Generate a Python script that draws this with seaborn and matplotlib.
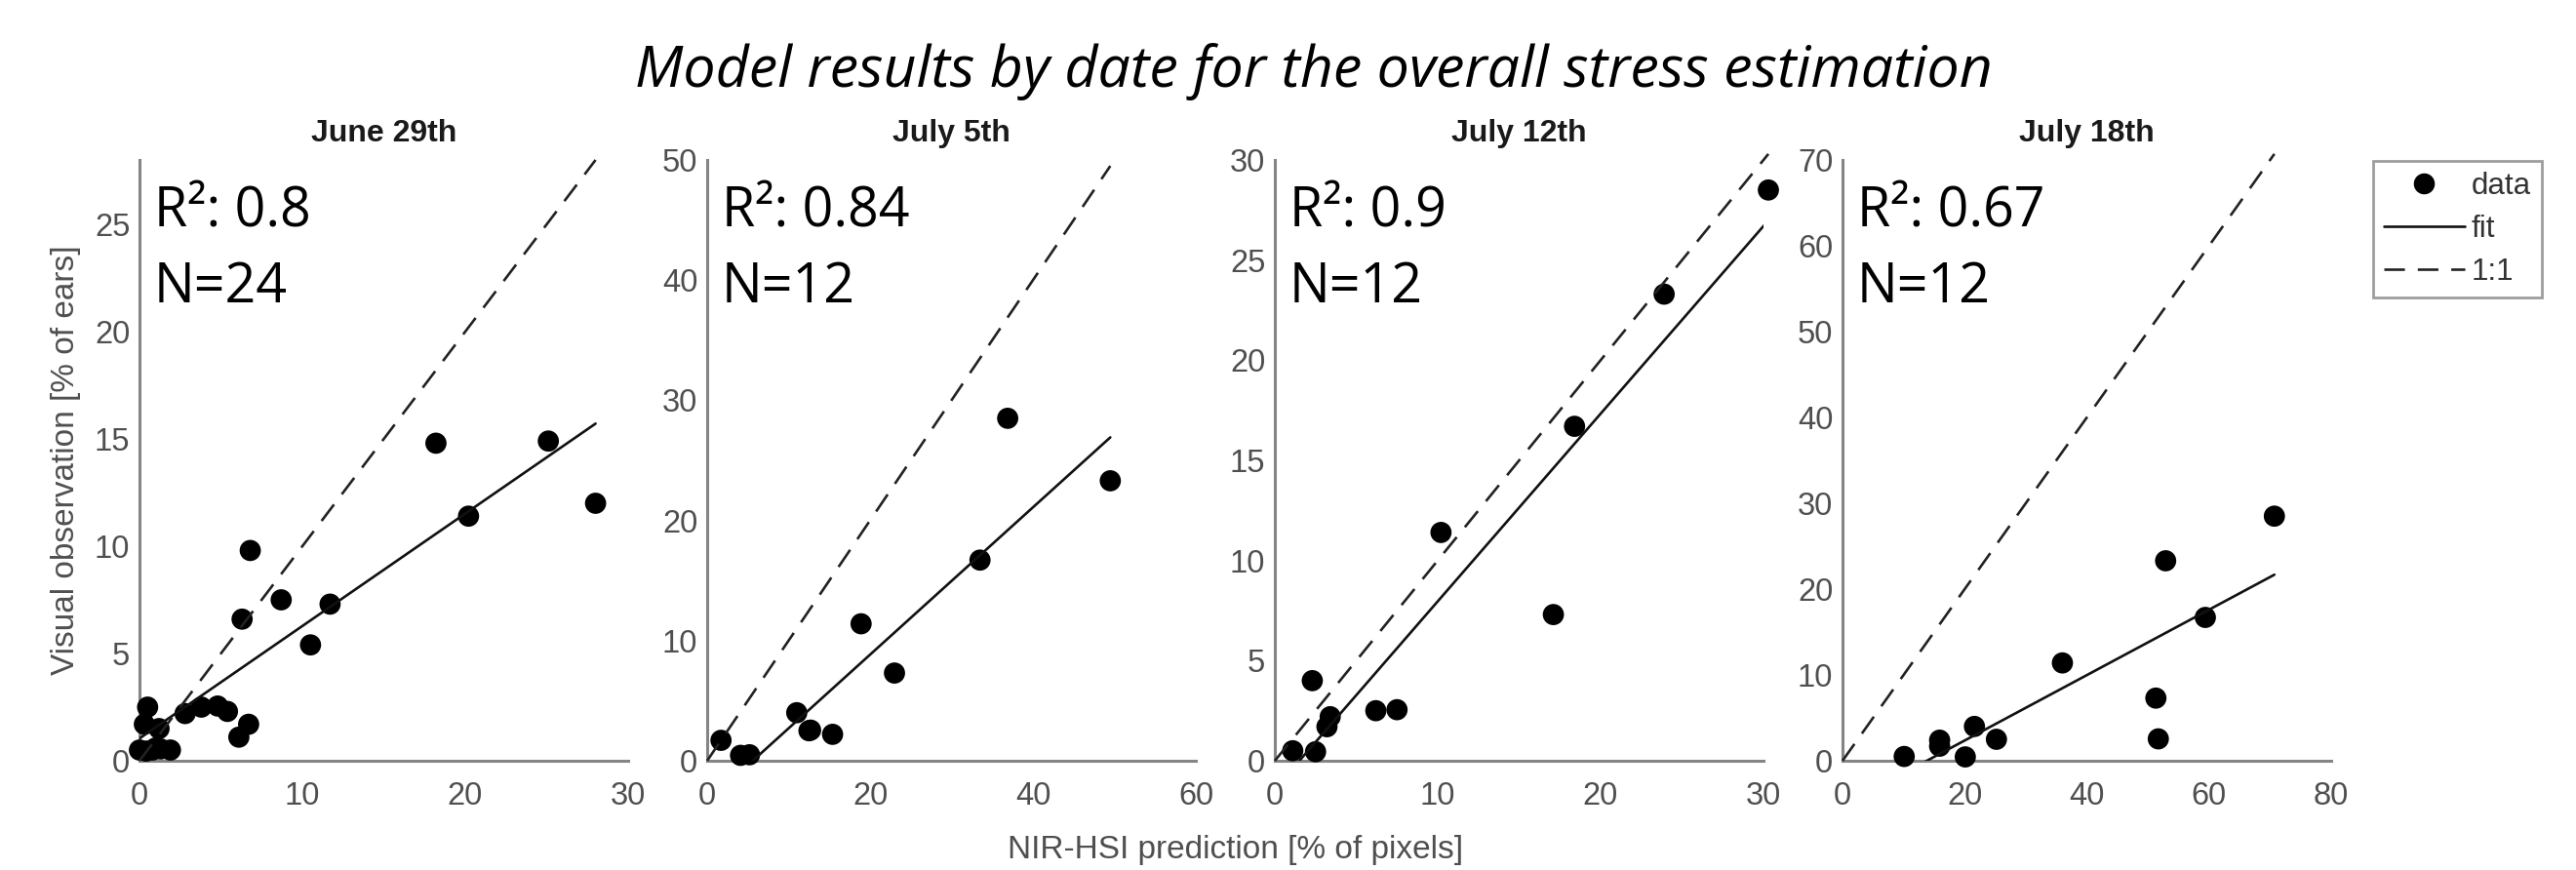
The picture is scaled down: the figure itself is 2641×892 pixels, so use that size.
import numpy as np
import pandas as pd
import seaborn as sns
import matplotlib.pyplot as plt
from matplotlib.lines import Line2D

# ---------------- data ----------------
dates = ["June 29th", "July 5th", "July 12th", "July 18th"]
r2_values = ["0.8", "0.84", "0.9", "0.67"]
n_values = ["24", "12", "12", "12"]

pred_jun29 = [18.2, 25.1, 28.0, 20.2, 6.8, 8.7, 11.7, 6.3, 10.5, 0.5, 0.3, 1.2,
              2.8, 3.8, 4.8, 5.4, 6.7, 6.1, 0.0, 0.8, 1.3, 1.9, 0.4, 1.0]
obs_jun29 = [14.8, 14.9, 12.0, 11.4, 9.8, 7.5, 7.3, 6.6, 5.4, 2.5, 1.7, 1.5,
             2.2, 2.5, 2.55, 2.3, 1.7, 1.1, 0.5, 0.5, 0.55, 0.5, 0.45, 0.6]

pred_jul05 = [1.7, 4.1, 5.2, 11.0, 12.5, 15.4, 18.9, 23.0, 33.5, 36.9, 49.5, 12.7]
obs_jul05 = [1.7, 0.45, 0.5, 4.0, 2.5, 2.2, 11.4, 7.3, 16.7, 28.5, 23.3, 2.55]

pred_jul12 = [1.1, 2.5, 2.3, 3.2, 3.4, 6.2, 7.5, 10.2, 17.1, 18.4, 23.9, 30.3]
obs_jul12 = [0.5, 0.45, 4.0, 1.7, 2.2, 2.5, 2.55, 11.4, 7.3, 16.7, 23.3, 28.5]

pred_jul18 = [10.1, 15.9, 15.9, 20.1, 21.6, 25.2, 36.0, 51.3, 51.7, 52.9, 59.4, 70.7]
obs_jul18 = [0.5, 2.4, 1.7, 0.45, 4.0, 2.5, 11.4, 7.3, 2.55, 23.3, 16.7, 28.5]

fit_slope = [0.524, 0.613, 0.937, 0.381]
fit_intercept = [1.04, -3.43, -1.41, -5.26]

x_limits = [30, 60, 30, 80]
x_steps = [10, 20, 10, 20]
y_limits = [28, 50, 30, 70]
y_steps = [5, 10, 5, 10]

preds = [pred_jun29, pred_jul05, pred_jul12, pred_jul18]
obss = [obs_jun29, obs_jul05, obs_jul12, obs_jul18]

# ---------------- style ----------------
sns.set_theme(style="white")
plt.rcParams["font.family"] = ["Liberation Sans", "DejaVu Sans"]

W, H = 2641, 892
fig = plt.figure(figsize=(W / 100, H / 100), dpi=100)

grey_axis = "#858585"
grey_text = "#4f4f4f"
dash_pattern = [8, 5]

ax_lefts = [143, 725, 1307, 1889]
ax_w = 501
ax_top, ax_bottom = 164, 780

axes = []
for i in range(4):
    ax = fig.add_axes([ax_lefts[i] / W, (H - ax_bottom) / H, ax_w / W, (ax_bottom - ax_top) / H])
    axes.append(ax)
    x = np.array(preds[i], dtype=float)
    y = np.array(obss[i], dtype=float)
    df = pd.DataFrame({"pred": x, "obs": y})

    sns.scatterplot(data=df, x="pred", y="obs", ax=ax, color="black", s=245,
                    edgecolor="none", zorder=3, legend=False, clip_on=False)

    xf = np.array([x.min(), x.max()])
    fit_df = pd.DataFrame({"x": xf, "y": fit_slope[i] * xf + fit_intercept[i]})
    sns.lineplot(data=fit_df, x="x", y="y", ax=ax, color="#111111", lw=1.9,
                 zorder=4, legend=False)

    one_df = pd.DataFrame({"x": [0.0, x.max()], "y": [0.0, x.max()]})
    sns.lineplot(data=one_df, x="x", y="y", ax=ax, color="#222222", lw=1.9,
                 dashes=False, zorder=4, legend=False)
    ax.lines[-1].set_dashes(dash_pattern)
    ax.lines[-1].set_clip_on(False)

    ax.set_xlim(0, x_limits[i])
    ax.set_ylim(0, y_limits[i])
    ax.set_xticks(np.arange(0, x_limits[i] + 0.1, x_steps[i]))
    ax.set_yticks(np.arange(0, y_limits[i] + 0.1, y_steps[i]))
    ax.set_xlabel("")
    ax.set_ylabel("")

    for side in ["top", "right"]:
        ax.spines[side].set_visible(False)
    for side in ["left", "bottom"]:
        ax.spines[side].set_color(grey_axis)
        ax.spines[side].set_linewidth(2.2)
    ax.tick_params(direction="in", length=4, width=1.5, color=grey_axis,
                   labelsize=23.5, labelcolor=grey_text)
    ax.tick_params(axis="x", pad=15)
    ax.tick_params(axis="y", pad=7)

    ax.set_title(dates[i], fontsize=23, fontweight="bold", color="#1a1a1a", pad=14)

    ax.text(0.03, 0.888, f"R\u00b2: {r2_values[i]}", transform=ax.transAxes,
            fontsize=40, family="Open Sans", color="black", va="baseline", ha="left")
    ax.text(0.03, 0.763, f"N={n_values[i]}", transform=ax.transAxes,
            fontsize=40, family="Open Sans", color="black", va="baseline", ha="left")

axes[0].set_ylabel("Visual observation [% of ears]", fontsize=24, color=grey_text, labelpad=10)

fig.text((ax_lefts[0] + ax_lefts[3] + ax_w) / 2 / W, 0.0135, "NIR-HSI prediction [% of pixels]",
         fontsize=24, color=grey_text, ha="center", va="baseline")

fig.text(0.510, 0.900, "Model results by date for the overall stress estimation",
         fontsize=42.5, family="Open Sans", style="italic", color="black",
         ha="center", va="baseline")

handles = [
    Line2D([], [], marker="o", color="black", ls="none", markersize=14.5),
    Line2D([], [], color="#111111", lw=1.9),
    Line2D([], [], color="#222222", lw=1.9, dashes=dash_pattern),
]
leg = fig.legend(handles, ["data", "fit", "1:1"], loc="upper left",
                 bbox_to_anchor=(2433 / W, 1 - 165 / H), bbox_transform=fig.transFigure,
                 fontsize=22.5, frameon=True, fancybox=False, handlelength=2.65,
                 handletextpad=0.22, labelspacing=0.45, borderpad=0.35, borderaxespad=0)
leg.get_frame().set_edgecolor(grey_axis)
leg.get_frame().set_linewidth(2)
for t in leg.get_texts():
    t.set_color("#333333")

fig.savefig("out.png", dpi=100)
